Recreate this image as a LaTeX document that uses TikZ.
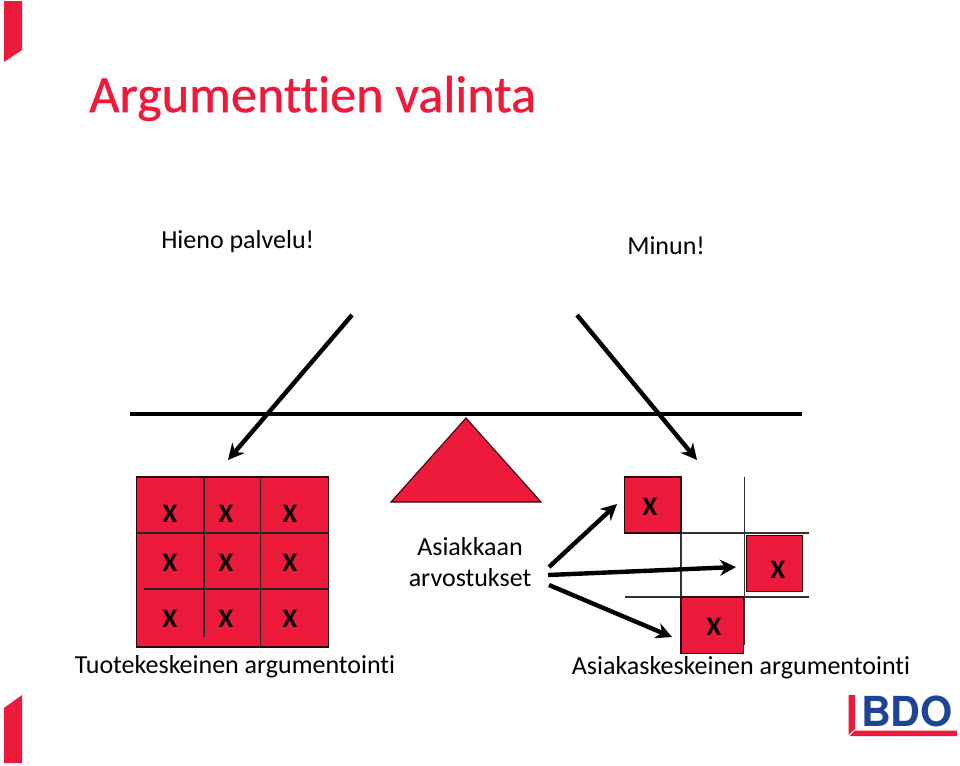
\documentclass[tikz,border=0pt]{standalone}
\usepackage{fontspec}
\setmainfont[Ligatures=CommonOff]{Carlito}
\newfontfamily\titlefont[Ligatures=CommonOff,FakeBold=0.7]{Carlito}
\newfontfamily\logofont{TeX Gyre Heros}
\usetikzlibrary{arrows.meta}
\definecolor{bdored}{HTML}{ED1A3B}
\definecolor{bdoblue}{HTML}{1F4397}
\tikzset{
  x=0.75pt,y=-0.75pt,
  lbl/.style={inner sep=0pt,font=\fontsize{19.5}{23}\selectfont,text=black},
  xmark/.style={inner sep=0pt,font=\fontsize{20}{22}\selectfont\bfseries,text=black},
  cell/.style={draw=black!80!bdored,line width=0.8pt,fill=bdored},
  gridline/.style={draw=black!80,line width=0.8pt},
  innerline/.style={draw=black!85,line width=0.9pt},
  bigarrow/.style={draw=black,line width=3.3pt,-{Stealth[length=12pt,width=12pt]}},
}
\begin{document}
\begin{tikzpicture}
\useasboundingbox (0,0) rectangle (960,765);
% corner flags
\fill[bdored] (4,1) -- (22,1) -- (22,50) -- (4,62) -- cycle;
\fill[bdored] (4,763) -- (22,763) -- (22,695) -- (4,708) -- cycle;
% title and headings
\node[inner sep=0pt,anchor=west,text=bdored,font=\titlefont\fontsize{39.2}{46}\selectfont] (title) at (89,98.5) {Argumenttien valinta};
\node[lbl,anchor=west] (hieno) at (161,242) {Hieno palvelu!};
\node[lbl,anchor=west] (minun) at (627,246) {Minun!};
% balance
\draw[black,line width=2.4pt] (130,414) -- (802,414);
\draw[cell] (391,502) -- (541,502) -- (466,418) -- cycle;
\coordinate (a1s) at (352,315);
\coordinate (a1e) at (228,460);
\coordinate (a2s) at (577,315);
\coordinate (a2e) at (697,460);
\draw[bigarrow] (a1s) -- (a1e);
\draw[bigarrow] (a2s) -- (a2e);
% left grid
\draw[cell] (136.5,477) rectangle (328.5,647);
\draw[innerline] (204,477) -- (204,637);
\draw[innerline] (260.5,477) -- (260.5,647);
\draw[innerline] (136.5,533) -- (328.5,533);
\draw[innerline] (144,589) -- (328.5,589);
\foreach \xx/\nx in {170/a,226/b,290/c}{
  \node[xmark] (x1\nx) at (\xx,514) {X};
  \node[xmark] (x2\nx) at (\xx,563) {X};
  \node[xmark] (x3\nx) at (\xx,619) {X};
}
\node[lbl] (tuote) at (235,667) {Tuotekeskeinen argumentointi};
% centre label
\node[lbl,align=center] (asiak) at (470,562) {Asiakkaan\\arvostukset};
% right grid
\draw[gridline] (681,533) -- (681,653);
\draw[gridline] (744.7,477) -- (744.7,645);
\draw[gridline] (681,533) -- (809,533);
\draw[gridline] (624.5,597) -- (809,597);
\draw[cell] (624.5,477) rectangle (681,533);
\draw[cell] (746.5,535.5) rectangle (802.5,591.5);
\draw[cell] (681,597) rectangle (743.5,653.5);
\node[xmark] (xr1) at (650,507) {X};
\node[xmark] (xr2) at (778,570) {X};
\node[xmark] (xr3) at (714,627) {X};
\coordinate (b1s) at (549,567);
\coordinate (b1e) at (617,504);
\coordinate (b2s) at (548,575);
\coordinate (b2e) at (736,567);
\coordinate (b3s) at (549,585);
\coordinate (b3e) at (672,637);
\draw[bigarrow] (b1s) -- (b1e);
\draw[bigarrow] (b2s) -- (b2e);
\draw[bigarrow] (b3s) -- (b3e);
\node[lbl] (asiakas) at (741,668) {Asiakaskeskeinen argumentointi};
% logo
\fill[bdored] (848.5,695) -- (855,695) -- (855,729) -- (848.5,735) -- cycle;
\fill[bdored] (855,730.5) -- (957,730.5) -- (957,736) -- (849.5,736) -- cycle;
\node[inner sep=0pt,text=bdoblue,font=\logofont\fontsize{31}{34}\selectfont\bfseries] (bdo) at (907,711) {BDO};
\end{tikzpicture}
\end{document}
